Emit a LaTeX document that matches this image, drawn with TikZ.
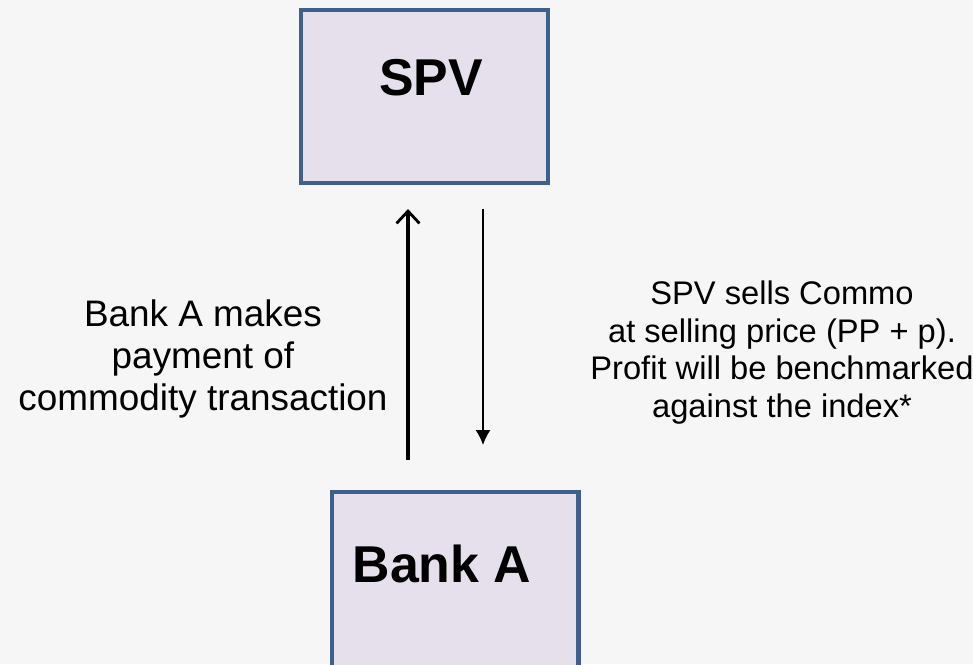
\documentclass[tikz,border=0pt]{standalone}
\usepackage{fontspec}
\setmainfont{Liberation Sans}
\usetikzlibrary{arrows.meta}
\definecolor{boxfill}{RGB}{230,224,236}
\definecolor{boxline}{RGB}{63,95,140}
\definecolor{pagebg}{RGB}{246,246,246}
\tikzset{
	entity/.style={draw=boxline,fill=boxfill,line width=2.3pt,minimum width=4.94cm,inner sep=0pt},
	entitytext/.style={font=\fontsize{29.5}{34}\selectfont\bfseries,inner sep=0pt},
	flowtext/.style={font=\fontsize{21}{24}\selectfont,align=center,inner sep=0pt},
	notetext/.style={font=\fontsize{18.6}{21.5}\selectfont,align=center,inner sep=0pt},
	payarrow/.style={line width=2.2pt,-{Straight Barb[length=7pt,width=13pt,line width=1.6pt]}},
	sellarrow/.style={line width=0.9pt,-{Latex[length=8.5pt,width=8.5pt]}}
}
\begin{document}
\begin{tikzpicture}[x=0.02cm,y=-0.02cm]
	\fill[pagebg] (0,0) rectangle (973,664);
	\useasboundingbox (0,0) rectangle (973,664);
	\clip (0,0) rectangle (973,664);
	% the two parties
	\node[entity,minimum height=3.46cm] (spv) at (424.5,96.5) {};
	\node[entitytext] (spvtxt) at (431,78) {SPV};
	\node[entity,minimum height=4.4cm] (bank) at (455,602) {};
	\node[entitytext] (banktxt) at (442,564) {Bank A};
	% arrows between them
	\coordinate (upx) at (408,0);
	\coordinate (downx) at (483,0);
	\draw[payarrow,shorten <=0.6cm,shorten >=0.48cm] (bank.north -| upx) -- (spv.south -| upx);
	\draw[sellarrow,shorten <=0.48cm,shorten >=0.9cm] (spv.south -| downx) -- (bank.north -| downx);
	% what happens
	\node[flowtext] (paytxt) at (203,359) {Bank A makes\\payment of\\commodity transaction};
	\node[notetext] (selltxt) at (782,352.5) {SPV sells Commo\\at selling price (PP + p).\\Profit will be benchmarked\\against the index*};
\end{tikzpicture}
\end{document}
